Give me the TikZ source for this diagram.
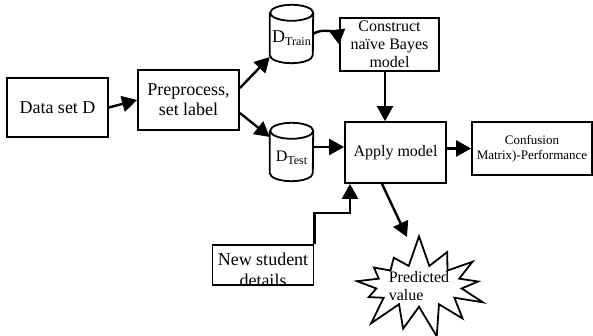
\documentclass[tikz,border=0pt]{standalone}
\usepackage{fontspec}
\setmainfont{Liberation Serif}
\usetikzlibrary{arrows.meta,shapes.symbols}

% outline of a data store around a named node
\newcommand\drum[1]{%
  \draw[line width=1.8pt] ([yshift=-8pt]#1.north west) -- ([yshift=8pt]#1.south west)
    arc[start angle=180,end angle=360,x radius=21.5pt,y radius=8pt]
    -- ([yshift=-8pt]#1.north east)
    arc[start angle=0,end angle=360,x radius=21.5pt,y radius=8pt];}

\begin{document}
\begin{tikzpicture}[x=1pt,y=1pt,
    box/.style={draw,line width=1.8pt,align=center,inner sep=2pt},
    big/.style={font=\fontsize{18}{20}\selectfont},
    mid/.style={font=\fontsize{16}{18}\selectfont},
    small/.style={font=\fontsize{13}{15}\selectfont},
    store/.style={minimum width=43pt,minimum height=58pt,inner sep=0pt},
    arr/.style={line width=2.4pt,-{Triangle[length=15pt,width=16pt]}}]
  \useasboundingbox (0,0) rectangle (593,336);

  \node[box,big,minimum width=101pt,minimum height=59pt] (data) at (57.5,228.5) {Data set D};
  \node[box,big,minimum width=101pt,minimum height=60pt] (prep) at (188.5,236) {Preprocess,\\set label};
  \node[store] (train) at (291.5,302) {};
  \node[store] (test) at (291.5,184) {};
  \drum{train}
  \drum{test}
  \node (traintext) at ([yshift=-4pt]train.center) {\fontsize{18}{20}\selectfont D\fontsize{12}{14}\selectfont\raisebox{-3pt}{Train}};
  \node (testtext) at ([yshift=-6pt]test.center) {\fontsize{16}{18}\selectfont D\fontsize{12}{14}\selectfont\raisebox{-3pt}{Test}};
  \node[box,mid,minimum width=99pt,minimum height=53pt] (build) at (389.5,291.5) {Construct\\na\"ive Bayes\\model};
  \node[box,mid,minimum width=101pt,minimum height=61pt] (apply) at (395.5,183.5) {Apply model};
  \node[box,small,minimum width=120pt,minimum height=53pt] (conf) at (532,187.5) {Confusion\\Matrix)-Performance};
  \node[box,minimum width=101pt,minimum height=40pt] (newst) at (263,71) {};
  \node[font=\fontsize{18}{21}\selectfont,align=center,anchor=north,inner sep=0pt] (newsttext)
    at ([yshift=-9pt]newst.north) {New student\\details};
  \node[draw,line width=1.8pt,starburst,starburst points=13,starburst point height=32pt,
    random starburst=7,minimum width=150pt,minimum height=104pt,mid,align=left,inner sep=0pt]
    (pred) at (419,50) {Predicted\\value};

  \coordinate (bend) at (350,123);
  \coordinate (predtip) at (407,99);

  \draw[arr] (data.east) -- (prep.west);
  \draw[arr] ([yshift=12pt]prep.east) -- ([yshift=-23pt]train.west);
  \draw[arr] ([yshift=-13pt]prep.east) -- ([yshift=15pt]test.west);
  \draw[arr] (train.east) to[bend left=60] (build.west);
  \draw[arr] ([xshift=-4.5pt]build.south) -- ([xshift=-4.5pt]build.south |- apply.north);
  \draw[arr] ([yshift=5pt]test.east) -- ([yshift=5pt]test.east -| apply.west);
  \draw[arr] (apply.east |- conf.west) -- (conf.west);
  \draw[arr] (newst.north east) |- (bend) -- (bend |- apply.south);
  \draw[arr] ([xshift=-13.5pt]apply.south) -- (predtip);
\end{tikzpicture}
\end{document}
